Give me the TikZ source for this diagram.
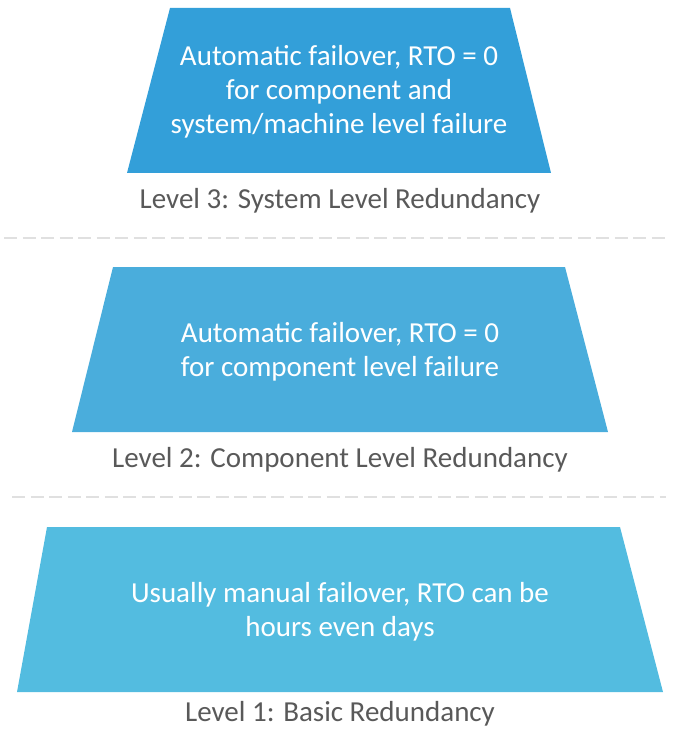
\documentclass[tikz,border=0pt]{standalone}
\usepackage{fontspec}
\setmainfont{Carlito}
\usetikzlibrary{positioning}

\definecolor{tierthree}{HTML}{339FD9}
\definecolor{tiertwo}{HTML}{4AADDC}
\definecolor{tierone}{HTML}{53BCE0}
\definecolor{labelgrey}{HTML}{595959}
\definecolor{sepgrey}{HTML}{E0E0E0}

\tikzset{
  boxtext/.style={text=white, align=center, font=\fontsize{29}{34}\selectfont},
  leveltext/.style={text=labelgrey, font=\fontsize{29}{32}\selectfont},
  sepline/.style={sepgrey, line width=2pt, dash pattern=on 13pt off 5.5pt}
}

\begin{document}
\begin{tikzpicture}[x=1pt,y=-1pt]
    \useasboundingbox (0,0) rectangle (672,730);
    % Level 3 trapezoid
    \fill[tierthree] (170,8) -- (510,8) -- (551,173) -- (127,173) -- cycle;
    \node[boxtext] (sys) at (339,92) {Automatic failover, RTO = 0\\for component and\\system/machine level failure};
    \node[leveltext] (sysl) at (340,201) {Level 3: System Level Redundancy};
    \draw[sepline] (4,238) -- (666,238);
    % Level 2 trapezoid
    \fill[tiertwo] (113,267) -- (565,267) -- (608,432) -- (72,432) -- cycle;
    \node[boxtext] (comp) at (340,352) {Automatic failover, RTO = 0\\for component level failure};
    \node[leveltext] (compl) at (340,460) {Level 2: Component Level Redundancy};
    \draw[sepline] (12,497) -- (666,497);
    % Level 1 trapezoid
    \fill[tierone] (47,527) -- (620,527) -- (663,692) -- (17,692) -- cycle;
    \node[boxtext] (basic) at (340,612) {Usually manual failover, RTO can be\\hours even days};
    \node[leveltext] (basicl) at (340,714) {Level 1: Basic Redundancy};
\end{tikzpicture}
\end{document}
